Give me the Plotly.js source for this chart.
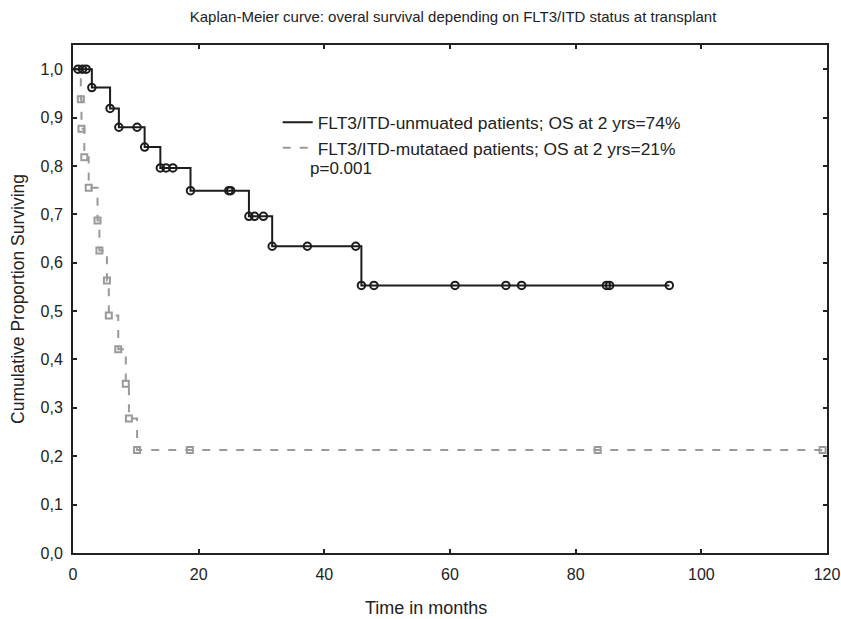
<!DOCTYPE html>
<html><head><meta charset="utf-8">
<script src="https://cdn.plot.ly/plotly-3.0.1.min.js"></script>
<style>html,body{margin:0;padding:0;background:#fff}#chart{width:841px;height:619px}</style>
</head><body><div id="chart"></div>
<script>
// ---- data ----
const unmutEventMonths = [3.0, 5.9, 7.3, 11.4, 13.9, 18.7, 28.0, 31.7, 45.9];
const unmutEventSurv   = [0.962, 0.919, 0.880, 0.839, 0.796, 0.749, 0.696, 0.634, 0.553];
const unmutCensoredMonths = [0.8, 1.5, 2.1, 10.2, 14.8, 15.9, 24.8, 25.1, 28.9, 30.3, 37.3, 45.0, 47.9, 60.8, 68.9, 71.4, 84.9, 85.4, 94.9];
const unmutLastMonth = 94.9;

const mutEventMonths = [1.25, 1.35, 1.8, 2.5, 3.9, 4.2, 5.4, 5.7, 7.2, 8.4, 8.9, 10.2];
const mutEventSurv   = [0.938, 0.877, 0.818, 0.755, 0.687, 0.625, 0.563, 0.491, 0.421, 0.350, 0.278, 0.213];
const mutCensoredMonths = [18.6, 83.5, 119.3];
const mutLastMonth = 119.3;

const seriesNames = ['FLT3/ITD-unmuated patients; OS at 2 yrs=74%', 'FLT3/ITD-mutataed patients; OS at 2 yrs=21%'];
const pValueText = 'p=0.001';
const xTickValues = [0, 20, 40, 60, 80, 100, 120];
const yTickValues = [0, 0.1, 0.2, 0.3, 0.4, 0.5, 0.6, 0.7, 0.8, 0.9, 1.0];
const chartTitle = 'Kaplan-Meier curve: overal survival depending on FLT3/ITD status at transplant';
const xTitle = 'Time in months';
const yTitle = 'Cumulative Proportion Surviving';

// ---- helpers ----
function survAt(t, times, surv) {
  let s = 1;
  for (let i = 0; i < times.length; i++) if (times[i] <= t) s = surv[i];
  return s;
}
function stepLine(times, surv, last) {
  return { x: [0].concat(times, [last]), y: [1].concat(surv, [surv[surv.length - 1]]) };
}
function markerPts(times, surv, cens) {
  const xs = times.concat(cens);
  return { x: xs, y: xs.map(t => survAt(t, times, surv)) };
}

const BLACK = '#1c1c1c', GRAY = '#9a9a9a';
const uL = stepLine(unmutEventMonths, unmutEventSurv, unmutLastMonth);
const mL = stepLine(mutEventMonths, mutEventSurv, mutLastMonth);
const uM = markerPts(unmutEventMonths, unmutEventSurv, unmutCensoredMonths);
const mM = markerPts(mutEventMonths, mutEventSurv, mutCensoredMonths);

const traces = [
  { x: mL.x, y: mL.y, mode: 'lines', name: seriesNames[1], legendrank: 2,
    line: { shape: 'hv', color: GRAY, width: 2, dash: '8px,9px' }, hoverinfo: 'skip' },
  { x: mM.x, y: mM.y, mode: 'markers', showlegend: false,
    marker: { symbol: 'square-open', size: 6, color: GRAY, line: { width: 2 } } },
  { x: uL.x, y: uL.y, mode: 'lines', name: seriesNames[0], legendrank: 1,
    line: { shape: 'hv', color: BLACK, width: 2 } },
  { x: uM.x, y: uM.y, mode: 'markers', showlegend: false,
    marker: { symbol: 'circle-open', size: 7.5, color: BLACK, line: { width: 2 } } }
];

const FONT = 'Liberation Sans, Arial, Helvetica, sans-serif';
const axisCommon = {
  ticks: 'inside', ticklen: 4, tickwidth: 2, tickcolor: '#222',
  showline: true, linewidth: 2, linecolor: '#222', mirror: 'ticks',
  showgrid: false, zeroline: false, fixedrange: true,
  tickfont: { size: 16, color: '#222' }
};

const layout = {
  width: 841, height: 619,
  margin: { l: 73, r: 14, t: 45, b: 66, pad: 0 },
  paper_bgcolor: '#fff', plot_bgcolor: '#fff',
  separators: ', ',
  font: { family: FONT, color: '#222', size: 16 },
  showlegend: true,
  title: { text: chartTitle, x: 0.504, xref: 'paper', xanchor: 'center',
           y: 1 - 17 / 619, yanchor: 'middle', font: { size: 15, color: '#222' } },
  xaxis: Object.assign({}, axisCommon, {
    range: [0, 120], tickvals: xTickValues, ticklabelstandoff: 6
  }),
  yaxis: Object.assign({}, axisCommon, {
    range: [0, 1.05], tickvals: yTickValues, tickformat: '.1f', ticklabelstandoff: 5,
    title: { text: yTitle, standoff: 11, font: { size: 17.5 } }
  }),
  legend: { x: 0.2715, y: 0.883, xanchor: 'left', yanchor: 'top', traceorder: 'normal',
            bgcolor: 'rgba(0,0,0,0)', borderwidth: 0, font: { size: 17.4, color: '#222' } },
  annotations: [
    { x: 37.4, y: 0.795, xref: 'x', yref: 'y', text: pValueText, showarrow: false,
      xanchor: 'left', yanchor: 'middle', font: { size: 17, color: '#222' } },
    { x: 0.468, y: -0.108, xref: 'paper', yref: 'paper', text: xTitle, showarrow: false,
      xanchor: 'center', yanchor: 'middle', font: { size: 18, color: '#222' } }
  ]
};

Plotly.newPlot('chart', traces, layout, { displayModeBar: false, staticPlot: true });
</script>
</body></html>
